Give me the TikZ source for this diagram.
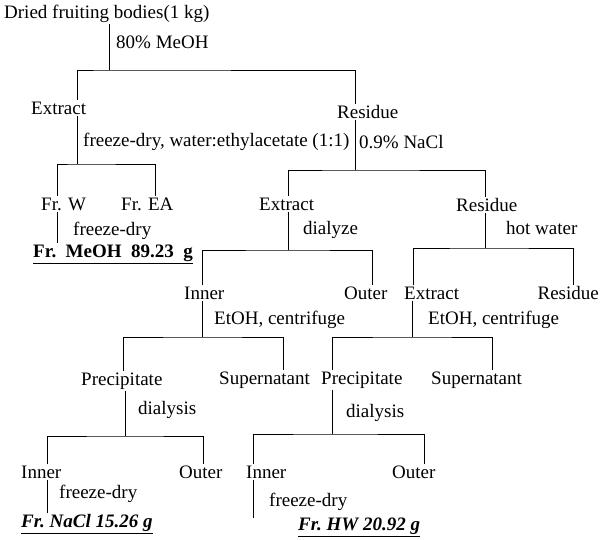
\documentclass[tikz,border=0pt]{standalone}
\usepackage{fontspec}
\setmainfont{Liberation Serif}
\begin{document}
\begin{tikzpicture}[x=1pt, y=-1pt,
  lab/.style={anchor=west, inner sep=1pt, font=\fontsize{19}{21}\selectfont},
  fr/.style={lab, font=\fontsize{19}{21}\selectfont\bfseries},
  link/.style={line width=0.8pt}]
\useasboundingbox (0,0) rectangle (600,540);
% texts
\node[lab] (dried) at (3,14) {Dried fruiting bodies(1 kg)};
\node[lab] (meoh) at (115,42) {80\% MeOH};
\node[lab] (ext1) at (30,108) {Extract};
\node[lab] (res1) at (336,112) {Residue};
\node[lab] (wea) at (82,142) {freeze-dry, water:ethylacetate (1:1)};
\node[lab] (nacl) at (358,142) {0.9\% NaCl};
\node[lab] (frw) at (40,204) {Fr. W};
\node[lab] (frea) at (120,204) {Fr. EA};
\node[lab] (ext2) at (258,204) {Extract};
\node[lab] (res2) at (455,205) {Residue};
\node[lab] (fd1) at (72,231) {freeze-dry};
\node[lab] (dlz) at (302,230) {dialyze};
\node[lab] (hw) at (505,228) {hot water};
\node[fr] (frmeoh) at (32,254) {\underline{Fr.\ \ MeOH\ \ 89.23\ \ g}};
\node[lab] (inner1) at (183,293) {Inner};
\node[lab] (outer1) at (343,293) {Outer};
\node[lab] (ext3) at (403,293) {Extract};
\node[lab, anchor=east] (res3) at (600,293) {Residue};
\node[lab] (etoh1) at (213,320) {EtOH, centrifuge};
\node[lab] (etoh2) at (427,320) {EtOH, centrifuge};
\node[lab] (prec1) at (80,381) {Precipitate};
\node[lab] (sup1) at (218,380) {Supernatant};
\node[lab] (prec2) at (320,380) {Precipitate};
\node[lab] (sup2) at (430,380) {Supernatant};
\node[lab] (dia1) at (137,410) {dialysis};
\node[lab] (dia2) at (345,413) {dialysis};
\node[lab] (inner2) at (20,472) {Inner};
\node[lab] (outer2) at (178,472) {Outer};
\node[lab] (inner3) at (245,472) {Inner};
\node[lab] (outer3) at (391,472) {Outer};
\node[lab] (fd2) at (58,494) {freeze-dry};
\node[lab] (fd3) at (268,502) {freeze-dry};
\node[fr, font=\fontsize{19}{21}\selectfont\bfseries\itshape] (frnacl) at (20,524) {\underline{Fr.\ NaCl\ 15.26\ g}};
\node[fr, font=\fontsize{19}{21}\selectfont\bfseries\itshape] (frhw) at (297,527) {\underline{Fr.\ HW\ 20.92\ g}};
% junctions
\coordinate (j1) at (109,70);  \coordinate (l1) at (77,70);   \coordinate (r1) at (355,70);
\coordinate (j2) at (77,164);  \coordinate (l2) at (57,164);  \coordinate (r2) at (155,164);
\coordinate (j3) at (355,170); \coordinate (l3) at (288,170); \coordinate (r3) at (485,170);
\coordinate (j5) at (288,250); \coordinate (l5) at (202,250); \coordinate (r5) at (372,250);
\coordinate (j6) at (485,248); \coordinate (l6) at (413,248); \coordinate (r6) at (573,248);
\coordinate (j7) at (202,337); \coordinate (l7) at (123,337); \coordinate (r7) at (283,337);
\coordinate (j8) at (412,337); \coordinate (l8) at (332,337); \coordinate (r8) at (492,337);
\coordinate (j9) at (125,436); \coordinate (l9) at (47,436);  \coordinate (r9) at (203,436);
\coordinate (j10) at (332,434); \coordinate (l10) at (253,434); \coordinate (r10) at (424,434);
\coordinate (end3) at (253,518);
% connectors
\draw[link] (dried.south -| j1) -- (j1);
\draw[link] (ext1.north -| l1) |- (j1) -| (res1.north -| r1);
\draw[link] (ext1.south -| j2) -- (j2);
\draw[link] (frw.north -| l2) |- (j2) -| (frea.north -| r2);
\draw[link] (res1.south -| j3) -- (j3);
\draw[link] (ext2.north -| l3) |- (j3) -| (res2.north -| r3);
\draw[link] (frw.south -| l2) -- (frmeoh.north -| l2);
\draw[link] (ext2.south -| j5) -- (j5);
\draw[link] (inner1.north -| l5) |- (j5) -| (outer1.north -| r5);
\draw[link] (res2.south -| j6) -- (j6);
\draw[link] (ext3.north -| l6) |- (j6) -| (res3.north -| r6);
\draw[link] (inner1.south -| j7) -- (j7);
\draw[link] (prec1.north -| l7) |- (j7) -| (sup1.north -| r7);
\draw[link] (ext3.south -| j8) -- (j8);
\draw[link] (prec2.north -| l8) |- (j8) -| (sup2.north -| r8);
\draw[link] (prec1.south -| j9) -- (j9);
\draw[link] (inner2.north -| l9) |- (j9) -| (outer2.north -| r9);
\draw[link] (prec2.south -| j10) -- (j10);
\draw[link] (inner3.north -| l10) |- (j10) -| (outer3.north -| r10);
\draw[link] (inner2.south -| l9) -- (frnacl.north -| l9);
\draw[link] (inner3.south -| l10) -- (end3);
\end{tikzpicture}
\end{document}
